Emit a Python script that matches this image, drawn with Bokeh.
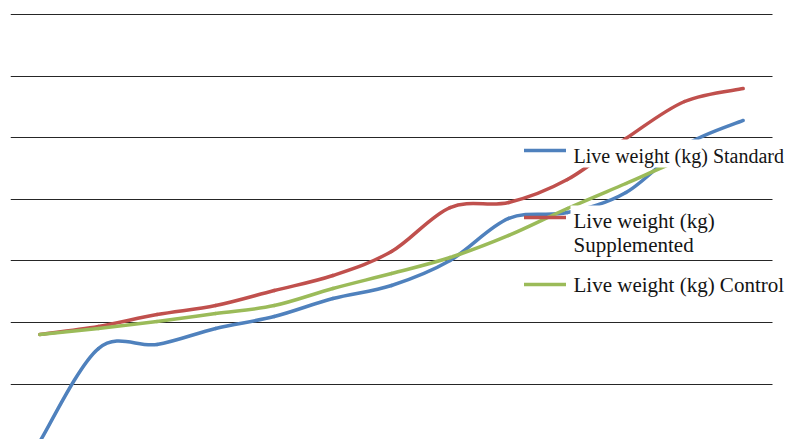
import numpy as np
from bokeh.plotting import figure
from bokeh.models import (Range1d, FixedTicker, Grid, Legend, LegendItem,
                          BoxAnnotation, Label, ColumnDataSource)
from bokeh.embed import file_html
from bokeh.resources import INLINE

# ---- data ----
periods = list(range(13))
standard = [53.3, 128.8, 132.1, 145.1, 154.8, 169.4, 180.0, 200.3, 234.4, 239.2, 255.5, 293.6, 314.0]
supplemented = [140.2, 146.7, 156.4, 163.7, 175.9, 188.1, 207.6, 243.3, 247.4, 266.0, 299.3, 329.4, 339.9]
control = [140.2, 145.1, 150.7, 157.2, 163.7, 177.5, 189.7, 202.7, 220.6, 242.5, 262.8, 283.1, 296.1]
grid_values = [100, 150, 200, 250, 300, 350, 400]
series_names = ["Live weight (kg) Standard", "Live weight (kg) Supplemented", "Live weight (kg) Control"]
colors = ["#4F81BD", "#C0504D", "#9BBB59"]

FONT = "Liberation Serif"
TEXT_COLOR = "#141414"
W, H = 787, 439


def bezier_source(xs, ys):
    """Smooth (Catmull-Rom style) curve through the data points, as cubic Bezier segments."""
    x = np.asarray(xs, float)
    y = np.asarray(ys, float)
    n = len(x)
    xp = np.concatenate([[x[0]], x, [x[-1]]])
    yp = np.concatenate([[y[0]], y, [y[-1]]])
    return ColumnDataSource(dict(
        x0=x[:-1], y0=y[:-1], x1=x[1:], y1=y[1:],
        cx0=x[:-1] + (xp[2:n + 1] - xp[0:n - 1]) / 6.0,
        cy0=y[:-1] + (yp[2:n + 1] - yp[0:n - 1]) / 6.0,
        cx1=x[1:] - (xp[3:n + 2] - xp[1:n]) / 6.0,
        cy1=y[1:] - (yp[3:n + 2] - yp[1:n]) / 6.0,
    ))


p = figure(width=W, height=H, output_backend="svg", toolbar_location=None,
           x_range=Range1d(-0.5, 12.7559), y_range=Range1d(54.94, 411.4),
           x_axis_location=None, y_axis_location=None,
           min_border_left=10, min_border_right=0, min_border_top=0, min_border_bottom=0)
p.outline_line_color = None
p.background_fill_color = "white"
p.border_fill_color = "white"
for g in p.grid:
    g.visible = False
p.add_layout(Grid(dimension=1, ticker=FixedTicker(ticks=grid_values),
                  grid_line_color="#262626", grid_line_width=1))
# the gridlines stop short of the right edge
p.add_layout(BoxAnnotation(left=762, right=777, top=439, bottom=0,
                           left_units="screen", right_units="screen",
                           top_units="screen", bottom_units="screen",
                           fill_color="white", fill_alpha=1, line_alpha=0,
                           level="underlay"))

renderers = []
for vals, col, name in zip([standard, supplemented, control], colors, series_names):
    src = bezier_source(periods, vals)
    r = p.bezier(x0="x0", y0="y0", x1="x1", y1="y1", cx0="cx0", cy0="cy0",
                 cx1="cx1", cy1="cy1", source=src, line_color=col, line_width=3.5,
                 line_cap="round", name=name)
    renderers.append(r)

# white backing behind the legend texts (screen units, relative to the plot area)
for top, bottom in [(300, 272), (234, 182), (168, 140)]:
    p.add_layout(BoxAnnotation(left=560, right=777, top=top, bottom=bottom,
                               left_units="screen", right_units="screen",
                               top_units="screen", bottom_units="screen",
                               fill_color="white", fill_alpha=1, line_alpha=0,
                               level="annotation"))

# legend swatches (one small legend per series so each can sit where the reference has it)
legend_y = [276, 209.5, 142.5]
for r, ly in zip(renderers, legend_y):
    leg = Legend(items=[LegendItem(label=" ", renderers=[r])], location=(514, ly),
                 padding=0, margin=0, spacing=0, glyph_width=42, glyph_height=20,
                 label_height=26, label_standoff=7,
                 label_text_font=FONT, label_text_font_size="21px",
                 label_text_color=TEXT_COLOR,
                 background_fill_alpha=0, border_line_alpha=0)
    p.add_layout(leg, "center")

# legend texts
legend_texts = ["Live weight (kg) Standard", "Live weight (kg)", "Supplemented", "Live weight (kg) Control"]
text_y = [283.8, 218.8, 194.8, 154.8]
text_sizes = ["20px", "21px", "21px", "21px"]
for t, ty, fs in zip(legend_texts, text_y, text_sizes):
    p.add_layout(Label(x=563, y=ty, x_units="screen", y_units="screen",
                       text=t, text_font=FONT, text_font_size=fs,
                       text_color=TEXT_COLOR, text_baseline="alphabetic"))

open("out.html", "w").write(file_html(p, INLINE))
